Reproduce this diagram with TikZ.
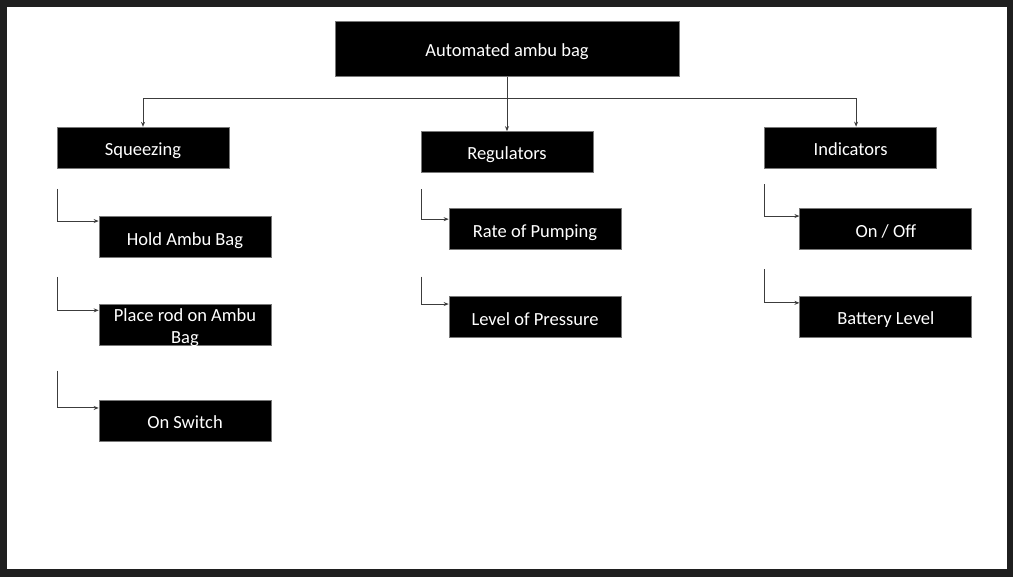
\documentclass[tikz,border=0pt]{standalone}
\usepackage{fontspec}
\setmainfont{Carlito}
\usetikzlibrary{arrows.meta,calc}
\definecolor{frame}{RGB}{31,31,31}
\definecolor{conn}{RGB}{60,60,60}
\definecolor{edge}{RGB}{120,120,120}
\tikzset{
  box/.style={rectangle, fill=black, draw=edge, line width=0.7pt, text=white,
    minimum width=172pt, minimum height=41pt, inner sep=0pt,
    text height=16pt, text depth=0pt,
    font=\fontsize{18.5}{22.2}\selectfont},
  conline/.style={draw=conn, line width=1pt},
  arr/.style={conline, -{Stealth[length=5pt,width=4pt]}}
}
\begin{document}
\begin{tikzpicture}[x=1pt,y=-1pt]
\useasboundingbox (0,0) rectangle (1013,577);
\fill[frame] (0,0) rectangle (1013,577);
\fill[white] (7,7) rectangle (1007,569);

\node[box, minimum width=344pt, minimum height=55.5pt] (top) at (507,48.75) {Automated ambu bag};

\node[box] (sq) at (143,147.7) {Squeezing};
\node[box] (reg) at (507,152) {Regulators};
\node[box] (ind) at (850.6,147.5) {Indicators};

\node[box] (hold) at (185,237.2) {Hold Ambu Bag};
\node[box, text height=0pt, text depth=0pt] (place) at (185,324.5)
  {\raisebox{-8pt}[0pt][0pt]{\begin{tabular}{@{}c@{}}Place rod on Ambu\\Bag\end{tabular}}};
\node[box] (onsw) at (185,420.5) {On Switch};

\node[box] (rate) at (535,229.2) {Rate of Pumping};
\node[box] (lvl) at (535,317.3) {Level of Pressure};

\node[box] (onoff) at (885.8,229.2) {On / Off};
\node[box] (batt) at (885.8,317) {Battery Level};

% main connectors
\coordinate (bus) at (507,98.3);
\draw[conline] (top.south) -- (bus);
\draw[arr] (bus) -| (sq.north);
\draw[arr] (bus) -| ([xshift=5.5pt]ind.north);
\draw[arr] (bus) -- (reg.north);

% sub connectors
\coordinate (s1) at (57,189);
\coordinate (s2) at (57,277);
\coordinate (s3) at (57,370.7);
\coordinate (r1) at (421,189.3);
\coordinate (r2) at (421,276.7);
\coordinate (i1) at (764.3,184.3);
\coordinate (i2) at (764.3,269.3);

\draw[arr] (s1) |- ([yshift=-4.7pt]hold.north west);
\draw[arr] (s2) |- ([yshift=-6.7pt]place.north west);
\draw[arr] (s3) |- ([yshift=-8.3pt]onsw.north west);
\draw[arr] (r1) |- ([yshift=-10.8pt]rate.north west);
\draw[arr] (r2) |- ([yshift=-7.6pt]lvl.north west);
\draw[arr] (i1) |- ([yshift=-7.7pt]onoff.north west);
\draw[arr] (i2) |- ([yshift=-6.7pt]batt.north west);
\end{tikzpicture}
\end{document}
